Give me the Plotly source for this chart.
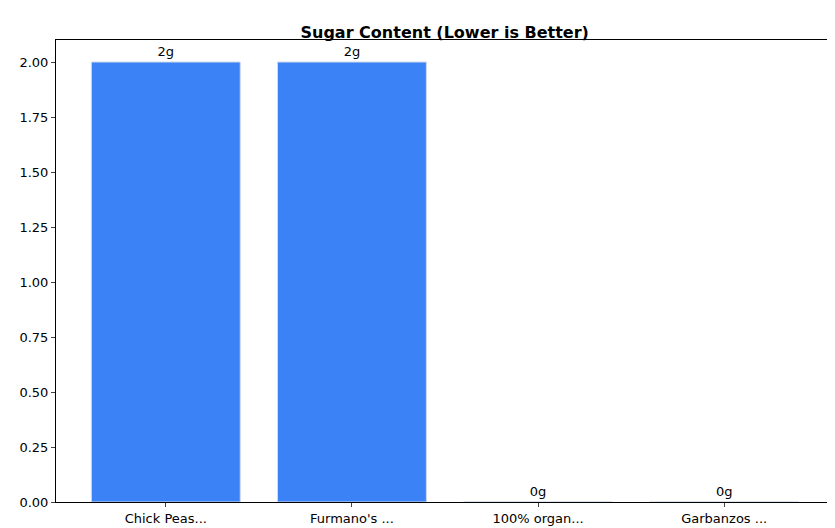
import plotly.graph_objects as go

categories = ["Chick Peas...", "Furmano's ...", "100% organ...", "Garbanzos ..."]
sugar = [2, 2, 0, 0]
labels = ["2g", "2g", "0g", "0g"]

fig = go.Figure(go.Bar(
    x=list(range(len(categories))), y=sugar, width=0.8,
    marker=dict(color="#3b82f6", line=dict(color="#d0d8e8", width=1)),
    text=labels, textposition="outside", cliponaxis=False,
    textfont=dict(color="black", size=13, family="DejaVu Sans"),
))
fig.update_layout(
    width=835, height=528, plot_bgcolor="white", paper_bgcolor="white",
    margin=dict(l=48, r=9, t=32, b=34),
    title=dict(text="<b>Sugar Content (Lower is Better)</b>", x=0.523, xanchor="center", y=0.965,
               font=dict(size=16, family="DejaVu Sans", color="black")),
    font=dict(family="DejaVu Sans", size=13, color="black"),
    showlegend=False,
)
fig.update_xaxes(range=[-0.59, 3.59], tickvals=list(range(4)), ticktext=categories,
                 showline=True, linecolor="black", mirror=True, ticks="outside",
                 ticklen=4, showgrid=False)
fig.update_yaxes(range=[0, 2.1], tickvals=[i*0.25 for i in range(9)],
                 ticktext=[f"{i*0.25:.2f}" for i in range(9)],
                 showline=True, linecolor="black", mirror=True, ticks="outside",
                 ticklen=4, showgrid=False, zeroline=False)
fig.write_html("out.html")
